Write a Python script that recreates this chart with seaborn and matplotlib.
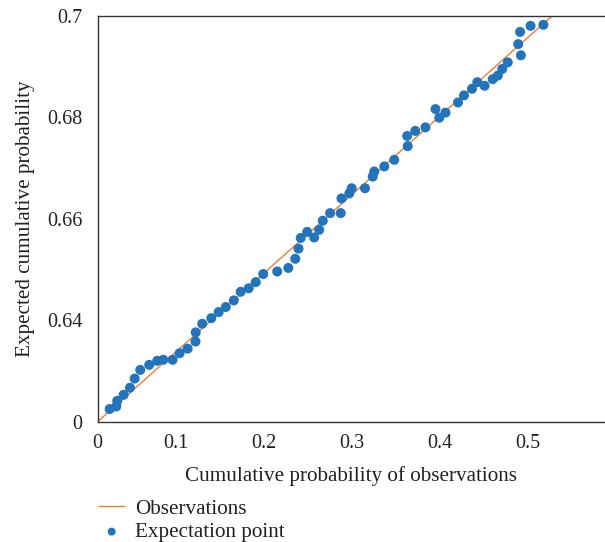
import matplotlib
matplotlib.use("Agg")
import matplotlib.pyplot as plt
import seaborn as sns
import pandas as pd

# Data
obs_x = [0.0246, 0.0321, 0.0332, 0.0405, 0.0477, 0.0530, 0.0594, 0.0696, 0.0787, 0.0856,
         0.0962, 0.1042, 0.1133, 0.1222, 0.1225, 0.1299, 0.1402, 0.1486, 0.1567, 0.1658,
         0.1736, 0.1828, 0.1908, 0.1993, 0.2152, 0.2278, 0.2357, 0.2394, 0.2419, 0.2493,
         0.2572, 0.2629, 0.2670, 0.2754, 0.2874, 0.2883, 0.2972, 0.2999, 0.3150, 0.3238,
         0.3256, 0.3370, 0.3483, 0.3636, 0.3630, 0.3722, 0.3838, 0.3952, 0.3995, 0.4066,
         0.4208, 0.4276, 0.4367, 0.4428, 0.4510, 0.4603, 0.4661, 0.4711, 0.4774, 0.4893,
         0.4923, 0.4914, 0.5033, 0.5179]
exp_y = [0.6225, 0.6230, 0.6241, 0.6253, 0.6267, 0.6285, 0.6302, 0.6312, 0.6320, 0.6322,
         0.6322, 0.6335, 0.6344, 0.6358, 0.6376, 0.6393, 0.6404, 0.6416, 0.6426, 0.6439,
         0.6456, 0.6463, 0.6475, 0.6491, 0.6496, 0.6503, 0.6521, 0.6541, 0.6562, 0.6574,
         0.6563, 0.6578, 0.6596, 0.6611, 0.6611, 0.6640, 0.6650, 0.6660, 0.6660, 0.6683,
         0.6693, 0.6703, 0.6716, 0.6743, 0.6763, 0.6773, 0.6780, 0.6816, 0.6799, 0.6809,
         0.6829, 0.6843, 0.6856, 0.6869, 0.6862, 0.6875, 0.6882, 0.6895, 0.6908, 0.6944,
         0.6922, 0.6968, 0.6980, 0.6982]
line_x = [0.011, 0.528]
line_y = [0.62, 0.70]

x_ticks = [0.011, 0.1, 0.2, 0.3, 0.4, 0.5]
x_tick_labels = ["0", "0.1", "0.2", "0.3", "0.4", "0.5"]
y_ticks = [0.62, 0.64, 0.66, 0.68, 0.70]
y_tick_labels = ["0", "0.64", "0.66", "0.68", "0.7"]

sns.set_theme(style="white")
plt.rcParams['font.family'] = ['Liberation Serif', 'DejaVu Serif']

W, H = 605, 542
fig = plt.figure(figsize=(W / 100, H / 100), dpi=100)
left_px, right_px, top_px, bottom_px = 97.7, 605, 15.7, 421.7
ax = fig.add_axes([left_px / W, 1 - bottom_px / H, (right_px - left_px) / W, (bottom_px - top_px) / H])

line_df = pd.DataFrame({"x": line_x, "y": line_y})
pts_df = pd.DataFrame({"x": obs_x, "y": exp_y})

sns.lineplot(data=line_df, x="x", y="y", ax=ax, color="#ED7D31", linewidth=1.0,
             label="Observations", zorder=2)
sns.scatterplot(data=pts_df, x="x", y="y", ax=ax, color="#2474BC", s=52,
                edgecolor="none", label="Expectation point", zorder=3)

ax.set_xlim(0.011, 0.588)
ax.set_ylim(0.62, 0.70)
ax.set_xticks(x_ticks)
ax.set_xticklabels(x_tick_labels)
ax.set_yticks(y_ticks)
ax.set_yticklabels(y_tick_labels)
ax.tick_params(axis="x", length=0, labelsize=14.5, colors="#222222", pad=9)
ax.tick_params(axis="y", length=0, labelsize=14.5, colors="#222222", pad=11)

for side in ["left", "bottom", "top"]:
    ax.spines[side].set_color("#333333")
    ax.spines[side].set_linewidth(1.0)
ax.spines["right"].set_visible(False)

ax.set_xlabel("Cumulative probability of observations", fontsize=15.2, color="#222222", labelpad=9)
ax.set_ylabel("Expected cumulative probability", fontsize=15.2, color="#222222", labelpad=9)

handles, labels = ax.get_legend_handles_labels()
ax.legend_.remove()
fig.legend(handles, labels, loc="upper left", bbox_to_anchor=(99 / W, 1 - 499 / H),
           frameon=False, fontsize=15.2, handlelength=1.2, handletextpad=0.5,
           labelspacing=0.17, borderpad=0, borderaxespad=0, markerscale=0.8,
           labelcolor="#222222")

fig.savefig("out.png", dpi=100)
